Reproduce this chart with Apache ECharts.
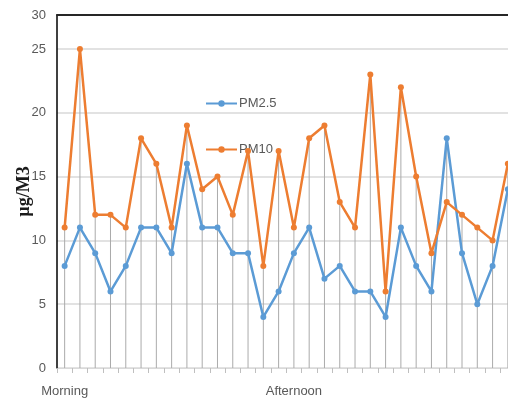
<!DOCTYPE html>
<html><head><meta charset="utf-8">
<script src="https://cdn.jsdelivr.net/npm/echarts@6/dist/echarts.min.js"></script>
<style>html,body{margin:0;padding:0;background:#fff}#c{width:508px;height:405px}</style>
</head><body><div id="c"></div>
<script>
const categories = ['Morning','','','','','','','','','','','','','','','Afternoon','','','','','','','','','','','','','',''];
const pm25 = [8,11,9,6,8,11,11,9,16,11,11,9,9,4,6,9,11,7,8,6,6,4,11,8,6,18,9,5,8,14];
const pm10 = [11,25,12,12,11,18,16,11,19,14,15,12,17,8,17,11,18,19,13,11,23,6,22,15,9,13,12,11,10,16];
const yTop = 27.66; // top border of plot, labelled 30 in the reference
const dropLines = pm25.map((v, i) => Math.max(v, pm10[i]));
const font = '"Liberation Sans Narrow","Arial Narrow","Liberation Sans",sans-serif';

const chart = echarts.init(document.getElementById('c'));
chart.setOption({
  animation: false,
  backgroundColor: '#fff',
  grid: {left: 57, top: 15, bottom: 37, right: -7.5, outerBoundsMode: 'none', containLabel: false},
  legend: {
    orient: 'vertical', left: 205, top: 97, padding: 0, itemWidth: 31, itemHeight: 8, itemGap: 33,
    data: ['PM2.5', 'PM10'],
    textStyle: {color: '#595959', fontSize: 13, fontFamily: font, padding: [0, 0, 0, -3]}
  },
  xAxis: [{
    type: 'category', data: categories, boundaryGap: true,
    axisLine: {lineStyle: {color: '#d9d9d9', width: 1}},
    axisTick: {show: true, length: 5, interval: 0, lineStyle: {color: '#bfbfbf'}},
    axisLabel: {interval: 0, margin: 17, color: '#595959', fontSize: 13, fontFamily: font},
    splitLine: {show: false}
  }, {
    type: 'category', data: categories, position: 'top',
    axisLine: {lineStyle: {color: '#262626', width: 2}},
    axisTick: {show: false}, axisLabel: {show: false}
  }],
  yAxis: {
    type: 'value', min: 0, max: yTop, interval: 5,
    name: 'µg/M3', nameLocation: 'middle', nameGap: 24, nameMoveOverlap: false,
    nameTextStyle: {fontFamily: '"Liberation Serif","Times New Roman",serif', fontWeight: 'bold', fontSize: 18, color: '#1a1a1a'},
    axisLine: {show: true, lineStyle: {color: '#000', width: 1.5}},
    axisTick: {show: false},
    axisLabel: {margin: 11, color: '#595959', fontSize: 13, fontFamily: font,
      formatter: v => (v > 25 ? '30' : String(v))},
    splitLine: {lineStyle: {color: '#d9d9d9', width: 1.5}}
  },
  series: [{
    name: 'drop', type: 'bar', data: dropLines, barWidth: 1, silent: true,
    itemStyle: {color: '#ababab'}, z: 1
  }, {
    name: 'PM2.5', type: 'line', data: pm25, symbol: 'circle', symbolSize: 6,
    lineStyle: {color: '#5b9bd5', width: 2.5}, itemStyle: {color: '#5b9bd5'}, z: 3
  }, {
    name: 'PM10', type: 'line', data: pm10, symbol: 'circle', symbolSize: 6,
    lineStyle: {color: '#ed7d31', width: 2.5}, itemStyle: {color: '#ed7d31'}, z: 4
  }]
});
</script></body></html>
